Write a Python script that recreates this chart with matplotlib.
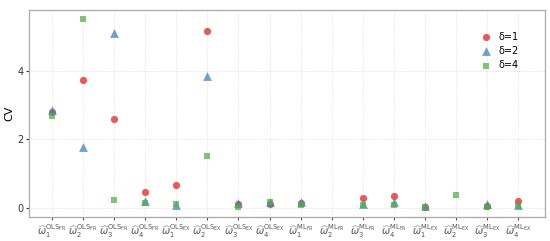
"""CV of the weight estimators for different delta values."""

from matplotlib import pyplot as plt
import numpy as np

nan = np.nan

ESTIMATORS = ["OLS_{FR}"] * 4 + ["OLS_{EX}"] * 4 + ["ML_{FR}"] * 4 + ["ML_{EX}"] * 4
INDICES = [1, 2, 3, 4] * 4

CV_D1 = [2.80, 3.73, 2.58, 0.47, 0.68, 5.15, 0.12, 0.12,
         0.14, nan, 0.29, 0.36, 0.03, nan, 0.06, 0.19]
CV_D2 = [2.86, 1.77, 5.10, 0.20, 0.08, 3.84, 0.15, 0.17,
         0.16, nan, 0.11, 0.18, 0.06, nan, 0.12, 0.10]
CV_D4 = [2.68, 5.49, 0.24, 0.15, 0.12, 1.52, 0.04, 0.17,
         0.09, nan, 0.09, 0.10, 0.02, 0.39, 0.03, 0.06]

SERIES = [("δ=1", CV_D1, "o", "#E41A1C", 27),
          ("δ=2", CV_D2, "^", "#377EB8", 40),
          ("δ=4", CV_D4, "s", "#4DAF4A", 25)]


def tick_label(est, i):
    name, sub = est.split("_")
    return (r"$\widehat{\omega}_{%d}^{\mathrm{%s}_{\mathrm{%s}}}$"
            % (i, name, sub.strip("{}")))


fig = plt.figure(figsize=(5.5, 2.41), dpi=100)
ax = fig.add_axes([0.053, 0.10, 0.938, 0.858])

x = np.arange(len(ESTIMATORS))
for label, ys, marker, color, size in SERIES:
    ax.scatter(x, ys, s=size, marker=marker, color=color, alpha=0.72,
               linewidths=0, label=label, zorder=3)

ax.set_xlim(-0.74, 15.87)
ax.set_ylim(-0.26, 5.76)
ax.set_xticks(x)
ax.set_xticklabels([tick_label(e, i) for e, i in zip(ESTIMATORS, INDICES)],
                   fontsize=7, color="#555555")
ax.set_yticks([0, 2, 4])
ax.tick_params(axis="y", labelsize=7, colors="#333333", length=2, pad=2)
ax.tick_params(axis="x", length=2, pad=2, colors="#555555")
ax.set_ylabel("CV", fontsize=8, labelpad=2)

ax.set_axisbelow(True)
ax.grid(True, color="#DDDDDD", linestyle=(0, (1, 1.5)), linewidth=0.6)
for s in ax.spines.values():
    s.set_color("#AAAAAA")
    s.set_linewidth(0.9)

ax.legend(loc="upper right", bbox_to_anchor=(0.958, 0.92), frameon=False,
          fontsize=7, handlelength=1.5, handletextpad=0.5, labelspacing=0.45,
          borderpad=0)

fig.savefig("out.png", dpi=100)
